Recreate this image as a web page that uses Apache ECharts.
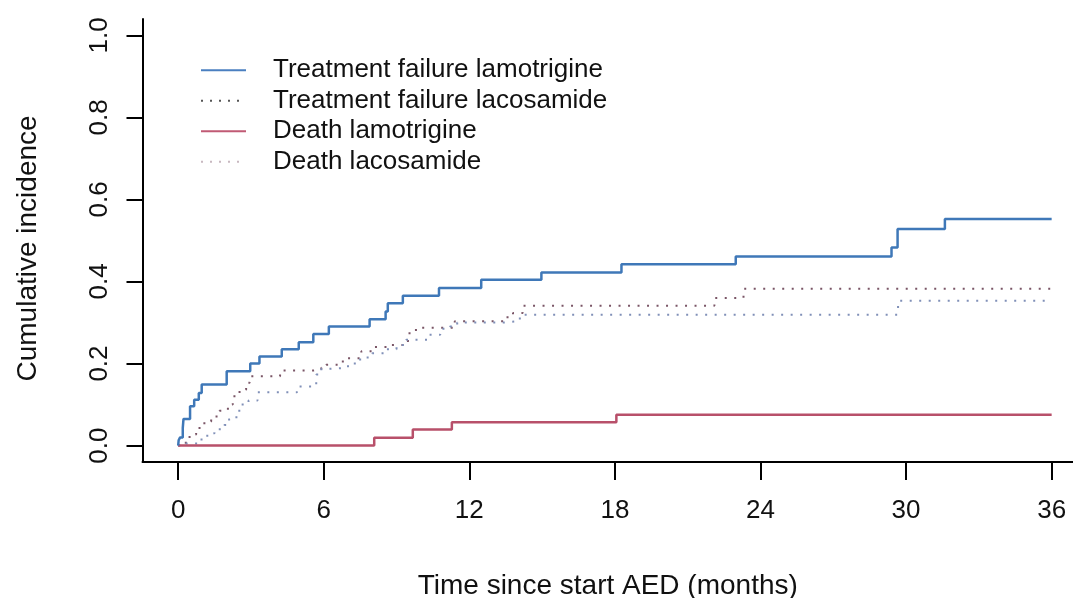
<!DOCTYPE html>
<html><head><meta charset="utf-8">
<script src="https://cdn.jsdelivr.net/npm/echarts@6/dist/echarts.min.js"></script>
<style>html,body{margin:0;padding:0;background:#fff}#c{width:1073px;height:598px}</style>
</head><body><div id="c"></div>
<script>
// ---- data (months, cumulative incidence) ----
const seriesNames = ['Treatment failure lamotrigine','Treatment failure lacosamide','Death lamotrigine','Death lacosamide'];
const xTicks = [0,6,12,18,24,30,36];
const yTicks = [0,0.2,0.4,0.6,0.8,1.0];

const tfLamX = [0,0.02,0.08,0.19,0.22,0.49,0.66,0.85,0.97,2.0,2.97,3.35,4.27,4.97,5.57,6.21,7.89,8.55,8.64,9.26,10.75,12.49,14.97,18.27,22.98,29.4,29.65,31.6,36];
const tfLamY = [0,0.013,0.02,0.043,0.065,0.096,0.112,0.128,0.149,0.181,0.2,0.217,0.235,0.252,0.272,0.29,0.308,0.327,0.347,0.365,0.384,0.404,0.422,0.442,0.461,0.483,0.528,0.552,0.552];

const tfLacX = [0,0.19,0.47,0.74,1.08,1.36,1.7,2.05,2.25,2.53,2.8,2.95,4.2,5.6,5.9,6.1,6.66,6.93,7.55,8.0,8.6,9.47,9.8,11.4,13.5,13.8,14.2,22.1,23.3,36];
const tfLacY = [0,0.007,0.027,0.043,0.059,0.071,0.085,0.1,0.12,0.136,0.153,0.169,0.183,0.185,0.19,0.197,0.205,0.213,0.23,0.24,0.245,0.274,0.287,0.303,0.313,0.323,0.341,0.36,0.382,0.382];

const deathLamX = [0,8.08,9.67,11.28,18.06,36];
const deathLamY = [0,0.019,0.039,0.057,0.075,0.075];

const deathLacX = [0,0.3,0.8,1.2,1.5,1.9,2.1,2.4,2.6,2.9,3.27,4.9,5.69,5.9,6.3,7.0,7.5,8.0,8.5,9.0,9.4,10.3,10.8,11.2,11.5,13.4,14.0,14.2,29.67,36];
const deathLacY = [0,0.005,0.015,0.03,0.04,0.05,0.065,0.085,0.1,0.11,0.13,0.144,0.173,0.187,0.19,0.2,0.215,0.225,0.235,0.245,0.258,0.27,0.285,0.29,0.3,0.303,0.31,0.319,0.353,0.353];

const pairs = (xs, ys) => xs.map((x, i) => [x, ys[i]]);

const FONT = "'Liberation Sans', Arial, sans-serif";
const chart = echarts.init(document.getElementById('c'), null, {renderer: 'canvas'});
const dot = [2, 7.5];
const hiddenSym = {opacity: 0, color: 'rgba(0,0,0,0)', borderWidth: 0};

chart.setOption({
  animation: false,
  backgroundColor: '#ffffff',
  grid: {left: 142.5, top: 18.9, right: 0, bottom: 136, containLabel: false, outerBoundsMode: 'none'},
  legend: {
    orient: 'vertical', left: 200, top: 55, padding: 0,
    itemWidth: 45, itemHeight: 4, itemGap: 0,
    textStyle: {fontFamily: FONT, fontSize: 26, color: '#111', lineHeight: 30.5, padding: [0, 0, 0, 22]},
    data: [
      {name: seriesNames[0], itemStyle: hiddenSym, lineStyle: {color: '#4a7fc0', width: 2, type: 'solid'}},
      {name: seriesNames[1], itemStyle: hiddenSym, lineStyle: {color: '#555', width: 2, type: [2, 7]}},
      {name: seriesNames[2], itemStyle: hiddenSym, lineStyle: {color: '#c05a74', width: 2, type: 'solid'}},
      {name: seriesNames[3], itemStyle: hiddenSym, lineStyle: {color: '#c8b8c0', width: 2, type: [2, 7]}}
    ]
  },
  xAxis: {
    type: 'value', min: -1.47, max: 36.88,
    name: 'Time since start AED (months)', nameLocation: 'middle', nameGap: 110,
    nameTextStyle: {fontFamily: FONT, fontSize: 28, color: '#111'},
    axisLine: {onZero: false, lineStyle: {color: '#000', width: 2}},
    axisTick: {customValues: xTicks, length: 18, lineStyle: {color: '#000', width: 2}},
    axisLabel: {customValues: xTicks, margin: 36, fontFamily: FONT, fontSize: 26, color: '#111'},
    splitLine: {show: false}
  },
  yAxis: {
    type: 'value', min: -0.04, max: 1.04,
    name: 'Cumulative incidence', nameLocation: 'middle', nameGap: 100, nameRotate: 90,
    nameTextStyle: {fontFamily: FONT, fontSize: 28, color: '#111', padding: [0, 16, 0, 0]},
    axisLine: {onZero: false, lineStyle: {color: '#000', width: 2}},
    axisTick: {customValues: yTicks, length: 16, lineStyle: {color: '#000', width: 2}},
    axisLabel: {customValues: yTicks, rotate: 90, margin: 30, fontFamily: FONT, fontSize: 26, color: '#111',
      formatter: v => v.toFixed(1)},
    splitLine: {show: false}
  },
  series: [
    {name: seriesNames[0], type: 'line', step: 'end', symbol: 'none', data: pairs(tfLamX, tfLamY),
      lineStyle: {color: '#3f78b8', width: 2.5}, itemStyle: {color: '#3f78b8'}, z: 5},
    {name: seriesNames[1], type: 'line', step: 'end', symbol: 'none', data: pairs(tfLacX, tfLacY),
      lineStyle: {color: '#7a5566', width: 2, type: dot}, itemStyle: {color: '#7a5566'}, z: 3},
    {name: seriesNames[2], type: 'line', step: 'end', symbol: 'none', data: pairs(deathLamX, deathLamY),
      lineStyle: {color: '#b8506a', width: 2.5}, itemStyle: {color: '#b8506a'}, z: 4},
    {name: seriesNames[3], type: 'line', step: 'end', symbol: 'none', data: pairs(deathLacX, deathLacY),
      lineStyle: {color: '#8090b8', width: 2, type: dot}, itemStyle: {color: '#8090b8'}, z: 3}
  ]
});
</script></body></html>
